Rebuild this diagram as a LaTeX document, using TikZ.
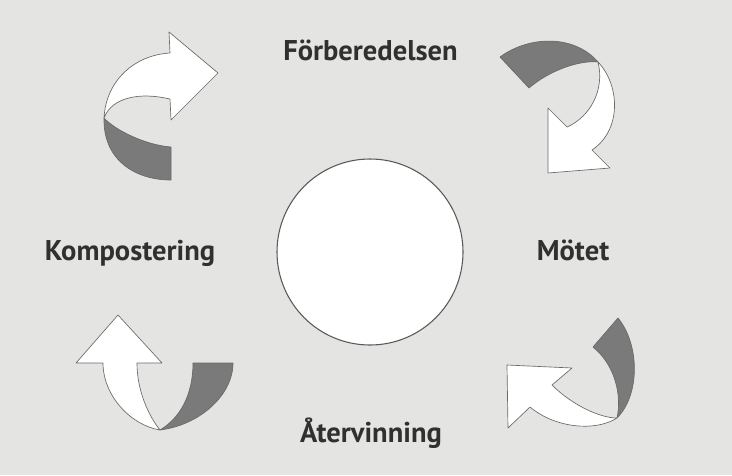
\documentclass[tikz,border=0pt]{standalone}
\usepackage{fontspec}
\setsansfont{PT Sans}
\usepackage{tikz}
\usetikzlibrary{positioning}
\definecolor{mypaper}{RGB}{228,228,226}
\definecolor{myshade}{RGB}{122,122,122}
\definecolor{myline}{RGB}{105,105,105}
\definecolor{mytext}{RGB}{48,48,48}
\tikzset{
	front/.style={fill=white, draw=myline, line width=0.5pt, line join=round},
	back/.style={fill=myshade, draw=myline, line width=0.5pt, line join=round},
	stage/.style={font=\sffamily\bfseries\fontsize{21.4}{24}\selectfont, text=mytext, inner sep=0pt, anchor=base},
}

\begin{document}
\begin{tikzpicture}[x=0.75pt, y=-0.75pt]
			% Paper and frame
			\fill[mypaper] (0,0) rectangle (732,475);
			\useasboundingbox (0,0) rectangle (732,475);
			% Centre circle
			\node [circle, draw=mytext!80, fill=white, line width=0.8pt, minimum size=139.5pt, inner sep=0pt] (hub) at (370,252) {};
			% Stage names
			\node [stage] (prep) at (370.5,60) {Förberedelsen};
			\node [stage] (meet) at (573,260) {Mötet};
			\node [stage] (reuse) at (371,442) {Återvinning};
			\node [stage] (compost) at (130,260) {Kompostering};
			% Top left arrow
			\draw[back] (104,118) .. controls (103,160) and (135,180) .. (171,180) -- (171,147)
				.. controls (145,145) and (115,130) .. (104,118) -- cycle;
			\draw[front] (104,118) .. controls (106,80) and (135,55) .. (170,53) -- (169,32) -- (218,73)
				-- (171,120) -- (170,99) .. controls (140,92) and (112,97) .. (104,118) -- cycle;
			% Top right arrow
			\draw[back] (500,57) .. controls (530,35) and (575,35) .. (598,62)
				.. controls (580,60) and (550,70) .. (529,88) -- cycle;
			\draw[front] (598,62) .. controls (620,85) and (622,130) .. (592,150) -- (610,168) -- (548,173)
				-- (548,108) -- (567,127) .. controls (590,117) and (605,90) .. (598,62) -- cycle;
			% Bottom right arrow
			\draw[back] (618,318) .. controls (640,345) and (640,395) .. (617,418)
				.. controls (622,395) and (615,365) .. (593,347) -- cycle;
			\draw[front] (617,418) .. controls (595,432) and (555,428) .. (530,407) -- (508,428) -- (507,365)
				-- (572,368) -- (552,385) .. controls (572,405) and (600,418) .. (617,418) -- cycle;
			% Bottom left arrow
			\draw[back] (160,430) .. controls (200,425) and (233,395) .. (233,363) -- (193,363)
				.. controls (193,395) and (180,418) .. (160,430) -- cycle;
			\draw[front] (103,363) .. controls (103,395) and (130,425) .. (160,430)
				.. controls (148,415) and (137,390) .. (137,363) -- (162,363) -- (118,315) -- (76,363) -- cycle;
\end{tikzpicture}
\end{document}
